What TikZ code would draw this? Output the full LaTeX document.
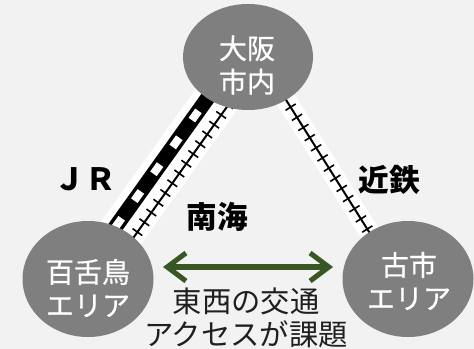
\documentclass[tikz,border=0pt]{standalone}
\usepackage{fontspec}
\setmainfont{Noto Sans CJK JP}
\newfontfamily\areafont[FakeBold=0.6]{Noto Sans CJK JP}
\usetikzlibrary{shapes.geometric,arrows.meta}
\definecolor{bg}{HTML}{F2F2F2}
\definecolor{areagray}{HTML}{7F7F7F}
\definecolor{arrowgreen}{HTML}{385723}
\begin{document}
\begin{tikzpicture}[x=0.75pt,y=-0.75pt,
  area/.style={ellipse,fill=areagray,inner sep=0pt},
  areatext/.style={text=white,align=center,inner sep=0pt,font=\areafont\fontsize{21pt}{25pt}\selectfont},
  linelabel/.style={inner sep=0pt,font=\fontsize{23pt}{27pt}\selectfont\bfseries},
  notetext/.style={align=center,inner sep=0pt,text=black!88,font=\fontsize{22pt}{24.75pt}\selectfont},
  jrglow/.style={white,line width=22.5pt},
  jrbase/.style={black,line width=11.25pt},
  jrdash/.style={white,line width=6pt,dash pattern=on 8.5pt off 16.25pt,dash phase=4pt},
  privglow/.style={white,line width=15pt},
  privline/.style={black,line width=1.5pt},
  privticks/.style={black,line width=9pt,dash pattern=on 1.2pt off 7.8pt},
  eastwest/.style={arrowgreen,line width=3.8pt,
    {Straight Barb[length=14pt,width=21pt]}-{Straight Barb[length=14pt,width=21pt]}}
]
\useasboundingbox (0,0) rectangle (474,349);
\fill[bg] (0,0) rectangle (474,349);

% rail line end points
\coordinate (jrA) at (99,250);
\coordinate (jrB) at (227,71);
\coordinate (nkA) at (116,262);
\coordinate (nkB) at (244,83);
\coordinate (ktA) at (271,76);
\coordinate (ktB) at (388,262);

% glows
\draw[jrglow] (jrA) -- (jrB);
\draw[privglow] (nkA) -- (nkB);
\draw[privglow] (ktA) -- (ktB);

% JR
\draw[jrbase] (jrA) -- (jrB);
\draw[jrdash] (jrA) -- (jrB);
% Nankai
\draw[privline] (nkA) -- (nkB);
\draw[privticks] (nkA) -- (nkB);
% Kintetsu
\draw[privline] (ktA) -- (ktB);
\draw[privticks] (ktA) -- (ktB);

% areas
\node[area,minimum width=97.5pt,minimum height=79.5pt] (osaka) at (248,57) {};
\node[area,minimum width=98.25pt,minimum height=87pt] (mozu) at (88,279) {};
\node[area,minimum width=98.25pt,minimum height=87pt] (furuichi) at (408,279) {};

\node[areatext] (osakatext) at (247,65) {大阪\\市内};
\node[areatext] (mozutext) at (88,288) {百舌鳥\\エリア};
\node[areatext] (furuichitext) at (409,281) {古市\\エリア};

% line labels
\node[linelabel] (jrlabel) at (85,179) {ＪＲ};
\node[linelabel] (nklabel) at (217,217) {南海};
\node[linelabel] (ktlabel) at (389,180) {近鉄};

% east-west arrow
\coordinate (arrL) at (163,267);
\coordinate (arrR) at (333,267);
\draw[eastwest] (arrL) -- (arrR);

\node[notetext] (note) at (246,318) {東西の交通\\アクセスが課題};
\end{tikzpicture}
\end{document}
